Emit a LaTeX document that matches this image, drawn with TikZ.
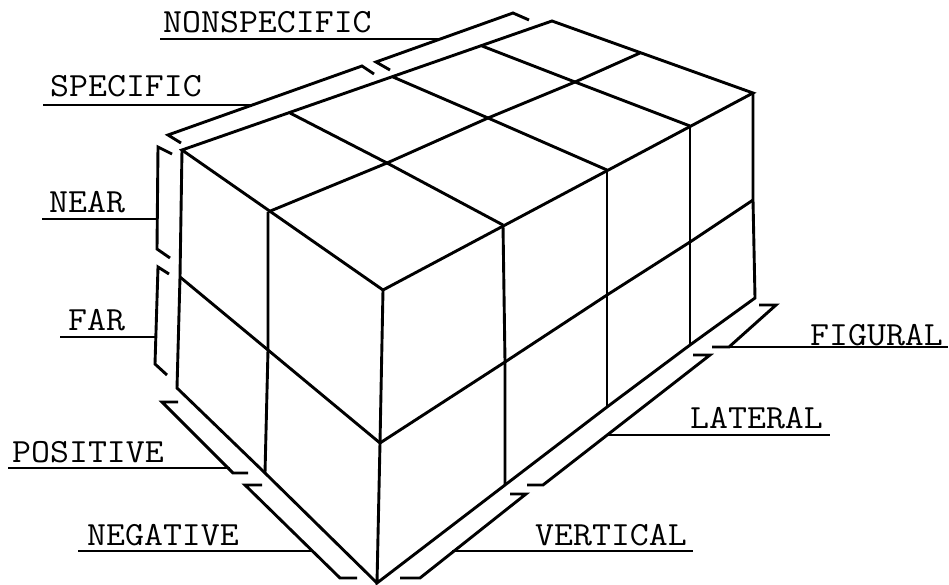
\documentclass[tikz,border=0pt]{standalone}
\usepackage{fontspec}
\begin{document}
\begin{tikzpicture}[x=1pt,y=-1pt,
  edge/.style={line width=2.9pt, line join=miter, line cap=butt},
  brk/.style={line width=2.9pt, line join=miter, line cap=butt},
  lead/.style={line width=2.6pt, line cap=butt},
  lbl/.style={anchor=base west, inner sep=0pt, font=\ttfamily\fontsize{36.8}{40}\selectfont}]
\useasboundingbox (0,0) rectangle (949,585);
% ---- top face grid
\coordinate (B0) at (182,150); \coordinate (B1) at (290,113); \coordinate (B2) at (393,77);
\coordinate (B3) at (482,46);  \coordinate (B4) at (552,21);
\coordinate (M0) at (268,212); \coordinate (M1) at (387,163); \coordinate (M2) at (488,118);
\coordinate (M3) at (575,82);  \coordinate (M4) at (640,53);
\coordinate (F0) at (383,290); \coordinate (F1) at (503,225); \coordinate (F2) at (607,170);
\coordinate (F3) at (690,126); \coordinate (F4) at (753,93);
% ---- left face
\coordinate (LM) at (180,277); \coordinate (LB) at (177,388);
\coordinate (M0m) at (268,350); \coordinate (M0b) at (265,473);
% ---- right face
\coordinate (F0m) at (380,443); \coordinate (F1m) at (505,362); \coordinate (F2m) at (607,295);
\coordinate (F3m) at (690,242); \coordinate (F4m) at (753,200);
\coordinate (F0b) at (377,583); \coordinate (F1b) at (505,485); \coordinate (F2b) at (607,407);
\coordinate (F3b) at (690,345); \coordinate (F4b) at (755,298);

% top
\draw[edge] (B0) -- (B4) -- (F4) -- (F0) -- cycle;
\draw[edge] (M0) -- (M1) -- (M2) -- (M3) -- (M4);
\draw[edge] (B1) -- (M1) -- (F1);
\draw[edge] (B2) -- (M2) -- (F2);
\draw[edge] (B3) -- (M3) -- (F3);
% left face
\draw[edge] (B0) -- (LM) -- (LB) -- (M0b) -- (F0b);
\draw[edge] (LM) -- (M0m) -- (F0m);
\draw[edge] (M0) -- (M0m) -- (M0b);
% right face
\draw[edge] (F0) -- (F0m) -- (F0b) -- (F1b) -- (F2b) -- (F3b) -- (F4b) -- (F4m) -- (F4);
\draw[edge] (F0m) -- (F1m) -- (F2m) -- (F3m) -- (F4m);
\draw[edge] (F1) -- (F1m) -- (F1b);
\draw[edge] (F2) -- (F2m) -- (F2b);
\draw[edge] (F3) -- (F3m) -- (F3b);

% ---- brackets
\coordinate (S1) at (168,135); \coordinate (S2) at (362,66);
\coordinate (N1) at (376,62);  \coordinate (N2) at (513,13);
\coordinate (R1) at (158,147); \coordinate (R2) at (157,249);
\coordinate (A1) at (158,267); \coordinate (A2) at (155,364);
\coordinate (P1) at (162,402); \coordinate (P2) at (233,473);
\coordinate (Q1) at (245,485); \coordinate (Q2) at (340,578);
\coordinate (V1) at (420,578); \coordinate (V2) at (526,494);
\coordinate (L1) at (543,485); \coordinate (L2) at (710,355);
\coordinate (G1) at (729,347); \coordinate (G2) at (776,305);

\draw[brk] (S1) ++(13,8) -- (S1) -- (S2) -- ++(12,8);
\draw[brk] (N1) ++(14,8) -- (N1) -- (N2) -- ++(16,7);
\draw[brk] (R1) ++(14,7) -- (R1) -- (R2) -- ++(13,9);
\draw[brk] (A1) ++(11,7) -- (A1) -- (A2) -- ++(12,11);
\draw[brk] (P1) ++(16,0) -- (P1) -- (P2) -- ++(15,0);
\draw[brk] (Q1) ++(17,0) -- (Q1) -- (Q2) -- ++(17,0);
\draw[brk] (V1) ++(-20,0) -- (V1) -- (V2) -- ++(-16,0);
\draw[brk] (L1) ++(-16,0) -- (L1) -- (L2) -- ++(-17,0);
\draw[brk] (G1) ++(-17,0) -- (G1) -- (G2) -- ++(-17,0);

% ---- labels and leaders
\node[lbl] (tNS) at (163,33)  {\scalebox{1}[0.92]{NONSPECIFIC}};
\node[lbl] (tS)  at (50,97)   {\scalebox{1}[0.92]{SPECIFIC}};
\node[lbl] (tN)  at (49,213)  {\scalebox{1}[0.92]{NEAR}};
\node[lbl] (tF)  at (68,330)  {\scalebox{1}[0.92]{FAR}};
\node[lbl] (tP)  at (12,462)  {\scalebox{1}[0.92]{POSITIVE}};
\node[lbl] (tNe) at (87,545)  {\scalebox{1}[0.92]{NEGATIVE}};
\node[lbl] (tV)  at (535,545) {\scalebox{1}[0.92]{VERTICAL}};
\node[lbl] (tL)  at (690,428) {\scalebox{1}[0.92]{LATERAL}};
\node[lbl] (tG)  at (810,345) {\scalebox{1}[0.92]{FIGURAL}};

\draw[lead] (160,39) -- (440,39);
\draw[lead] (43,105) -- (251,105);
\draw[lead] (42,219) -- (158,219);
\draw[lead] (60,337) -- (156,337);
\draw[lead] (8,468) -- (230,468);
\draw[lead] (78,551) -- (312,551);
\draw[lead] (452,551) -- (693,551);
\draw[lead] (608,435) -- (830,435);
\draw[lead] (712,347) -- (948,347);
\end{tikzpicture}
\end{document}
